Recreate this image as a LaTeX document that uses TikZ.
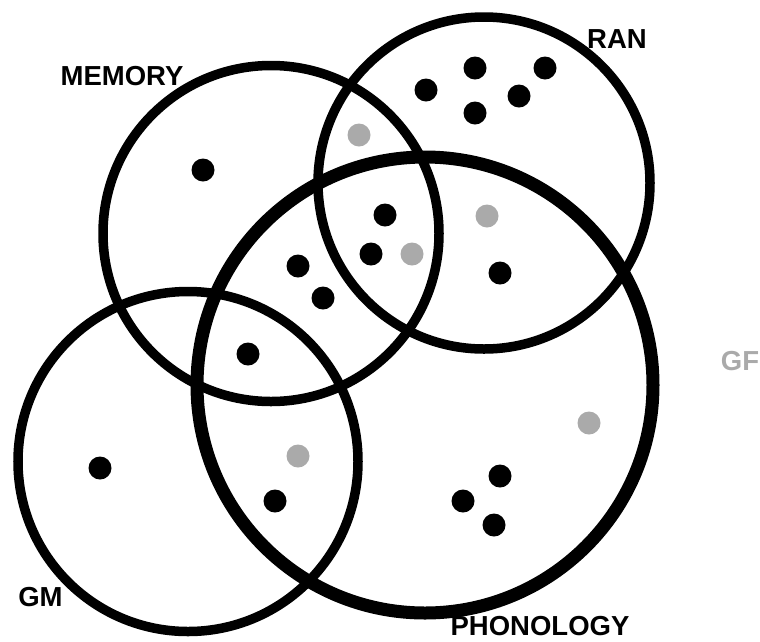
\documentclass[tikz,border=0pt]{standalone}
\usepackage{fontspec}
\setmainfont{Liberation Sans}
\definecolor{dotgray}{RGB}{170,170,170}
\begin{document}
\begin{tikzpicture}[x=1pt,y=-1pt,
  thinring/.style={draw=black,line width=9.5pt},
  thickring/.style={draw=black,line width=13pt},
  bdot/.style={fill=black},
  gdot/.style={fill=dotgray},
  lab/.style={font=\fontsize{27.5}{30}\selectfont\bfseries,anchor=base,inner sep=0pt}]
\useasboundingbox (0,0) rectangle (760,641);
% rings
\draw[thinring] (271,233.5) circle (168);
\draw[thinring] (484,183) circle (166);
\draw[thinring] (188,461.5) circle (170);
\draw[thickring] (425,385) circle (228);
% dots
\foreach \p in {(203,170),(298,266),(323,298),(475,68),(426,90),(545,68),(519,96),(475,113),(385,215),(371,254),(500,273),(248,354),(100,468),(275,501),(500,476),(463,501),(494,525)}
  \fill[bdot] \p circle (11.5);
\foreach \p in {(359,135),(487,216),(412,254),(298,456),(589,423)}
  \fill[gdot] \p circle (11.5);
% labels
\node[lab] (memory) at (122,85) {MEMORY};
\node[lab] (ran) at (617,48) {RAN};
\node[lab] (gm) at (40.5,606) {GM};
\node[lab] (phon) at (540,635) {PHONOLOGY};
\node[lab,text=dotgray] (gf) at (740,370) {GF};
\end{tikzpicture}
\end{document}
